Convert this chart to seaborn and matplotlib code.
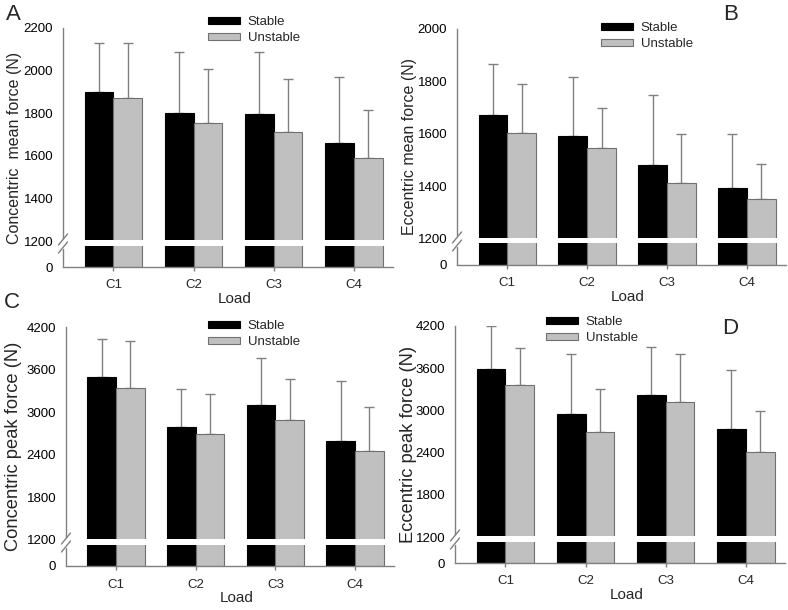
import numpy as np
import pandas as pd
import matplotlib
matplotlib.use("Agg")
import matplotlib.pyplot as plt
from matplotlib.patches import Patch
import seaborn as sns

sns.set_style("white")
plt.rcParams['font.family'] = ['Liberation Sans', 'DejaVu Sans']

loads = ['C1', 'C2', 'C3', 'C4']
conditions = ['Stable', 'Unstable']

# A: concentric mean force
conc_mean_stable = [1901, 1800, 1794, 1661]
conc_mean_stable_sd = [229, 289, 295, 309]
conc_mean_unstable = [1871, 1756, 1713, 1589]
conc_mean_unstable_sd = [259, 251, 247, 225]

# B: eccentric mean force
ecc_mean_stable = [1674, 1592, 1482, 1394]
ecc_mean_stable_sd = [193, 225, 265, 205]
ecc_mean_unstable = [1602, 1547, 1412, 1352]
ecc_mean_unstable_sd = [190, 153, 187, 132]

# C: concentric peak force
conc_peak_stable = [3501, 2788, 3099, 2588]
conc_peak_stable_sd = [530, 539, 668, 857]
conc_peak_unstable = [3341, 2694, 2892, 2447]
conc_peak_unstable_sd = [657, 558, 581, 624]

# D: eccentric peak force
ecc_peak_stable = [3586, 2943, 3222, 2731]
ecc_peak_stable_sd = [614, 860, 676, 841]
ecc_peak_unstable = [3360, 2693, 3113, 2409]
ecc_peak_unstable_sd = [529, 609, 685, 577]

W, H = 788, 610
fig = plt.figure(figsize=(W / 100, H / 100), dpi=100)


def px_axes(left, top, right, bottom):
    return fig.add_axes([left / W, 1 - bottom / H, (right - left) / W, (bottom - top) / H])


panels = [
    dict(box=(63, 28, 393, 267), stable=conc_mean_stable, s_sd=conc_mean_stable_sd,
         unstable=conc_mean_unstable, u_sd=conc_mean_unstable_sd, ymax=2200,
         yticks=[0, 1200, 1400, 1600, 1800, 2000, 2200], ylabel='Concentric  mean force (N)',
         ylsize=11.5, ylx=22, letter='A', lpos=(13, 14), leg=(208, 16)),
    dict(box=(457, 29, 786, 265), stable=ecc_mean_stable, s_sd=ecc_mean_stable_sd,
         unstable=ecc_mean_unstable, u_sd=ecc_mean_unstable_sd, ymax=2000,
         yticks=[0, 1200, 1400, 1600, 1800, 2000], ylabel='Eccentric mean force (N)',
         ylsize=11.5, ylx=417, letter='B', lpos=(731, 15), leg=(601, 22)),
    dict(box=(66, 327, 394, 566), stable=conc_peak_stable, s_sd=conc_peak_stable_sd,
         unstable=conc_peak_unstable, u_sd=conc_peak_unstable_sd, ymax=4200,
         yticks=[0, 1200, 1800, 2400, 3000, 3600, 4200], ylabel='Concentric peak force (N)',
         ylsize=13.2, ylx=22, letter='C', lpos=(12, 302), leg=(208, 320)),
    dict(box=(455, 326, 785, 563), stable=ecc_peak_stable, s_sd=ecc_peak_stable_sd,
         unstable=ecc_peak_unstable, u_sd=ecc_peak_unstable_sd, ymax=4200,
         yticks=[0, 1200, 1800, 2400, 3000, 3600, 4200], ylabel='Eccentric peak force (N)',
         ylsize=13.2, ylx=417, letter='D', lpos=(730, 328), leg=(546, 316)),
]

GRAY = '#808080'
UNST_EDGE = '#707070'

for p in panels:
    left, top, right, bottom = p['box']
    ax = px_axes(left, top, right, bottom)
    ax_w, ax_h = right - left, bottom - top
    ymax = p['ymax']

    df = pd.DataFrame({
        'Load': loads * 2,
        'Condition': ['Stable'] * 4 + ['Unstable'] * 4,
        'Force': p['stable'] + p['unstable'],
    })
    sns.barplot(data=df, x='Load', y='Force', hue='Condition', hue_order=conditions,
                palette={'Stable': 'black', 'Unstable': '#c0c0c0'}, width=0.72,
                errorbar=None, linewidth=0.8, saturation=1, legend=False, ax=ax)

    # broken axis: lower segment 0-1200 is squeezed
    lower_px = 26.0
    upper_px = ax_h - lower_px
    b = lower_px / upper_px * (ymax - 1200)

    def fwd(v, b=b):
        v = np.asarray(v, dtype=float)
        return np.where(v < 1200, v * b / 1200, b + v - 1200)

    def inv(u, b=b):
        u = np.asarray(u, dtype=float)
        return np.where(u < b, u * 1200 / b, u - b + 1200)

    ax.set_yscale('function', functions=(fwd, inv))
    ax.set_ylim(0, ymax)
    ax.set_xlim(-0.63, 3.49)

    # edge colours and error bars (upper only)
    sds = [p['s_sd'], p['u_sd']]
    means = [p['stable'], p['unstable']]
    bar_conts = list(ax.containers)[:2]
    for k, cont in enumerate(bar_conts):
        for bar in cont:
            bar.set_edgecolor('black' if k == 0 else UNST_EDGE)
        xs = [bar.get_x() + bar.get_width() / 2 for bar in cont]
        ax.errorbar(xs, means[k], yerr=[np.zeros(4), sds[k]], fmt='none',
                    ecolor=GRAY, elinewidth=1.0, capsize=3.5, capthick=1.0, zorder=0.9)

    up_unit = (ymax - 1200) / upper_px
    low_unit = 1200 / lower_px
    ax.axhspan(1200 - 4.5 * low_unit, 1200 + 1.0 * up_unit, color='white', zorder=1.5, lw=0)

    # spines with break marks
    for s in ['top', 'right']:
        ax.spines[s].set_visible(False)
    for s in ['left', 'bottom']:
        ax.spines[s].set_color(GRAY)
        ax.spines[s].set_linewidth(1.0)
    ax.spines['left'].set_bounds(1200 + 3.5 * up_unit, ymax)
    ax.plot([0, 0], [0, 1200 - 8 * low_unit], color=GRAY, lw=1.0,
            transform=ax.get_yaxis_transform(), clip_on=False, zorder=3)
    yb = lower_px / ax_h
    for dy in (1.5, -6.5):
        cy = yb + dy / ax_h
        ax.plot([-4.5 / ax_w, 4.5 / ax_w], [cy - 5.5 / ax_h, cy + 5.5 / ax_h],
                color=GRAY, lw=1.0, transform=ax.transAxes, clip_on=False, zorder=3)

    ax.set_yticks(p['yticks'])
    ax.set_yticklabels([str(t) for t in p['yticks']])
    ax.minorticks_off()
    ax.tick_params(axis='y', length=0, pad=7, labelsize=9.5, colors='black')
    ax.tick_params(axis='x', length=3, width=1, color=GRAY, pad=6, labelsize=9.5,
                   direction='out', bottom=True)

    ax.set_xlabel('Load', fontsize=11)
    ax.xaxis.set_label_coords(0.52, -0.105)
    ax.set_ylabel(p['ylabel'], fontsize=p['ylsize'])
    ax.yaxis.set_label_coords((p['ylx'] - left) / ax_w, 0.5)

    handles = [Patch(facecolor='black', edgecolor='black', lw=0.8),
               Patch(facecolor='#c0c0c0', edgecolor=UNST_EDGE, lw=0.8)]
    ax.legend(handles, conditions, loc='upper left',
              bbox_to_anchor=(p['leg'][0] / W, 1 - p['leg'][1] / H),
              bbox_transform=fig.transFigure, frameon=False, borderpad=0,
              fontsize=9.5, handlelength=2.4, handleheight=0.45,
              handletextpad=0.6, labelspacing=0.3, borderaxespad=0)

    fig.text(p['lpos'][0] / W, 1 - p['lpos'][1] / H, p['letter'], fontsize=16,
             ha='center', va='center')

fig.savefig('out.png', dpi=100)
